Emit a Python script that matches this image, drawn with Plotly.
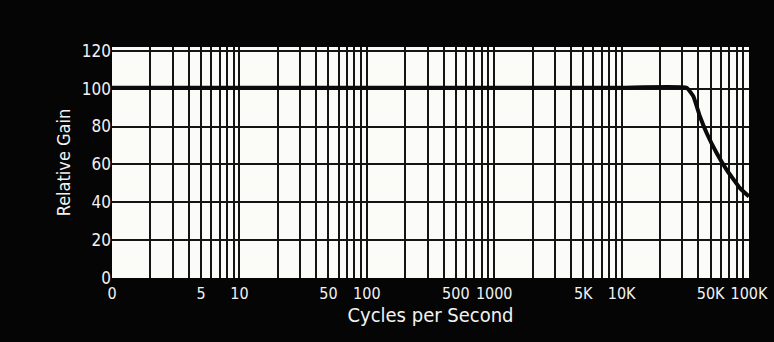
import plotly.graph_objects as go

# Data
freq_hz = [1, 10, 100, 1000, 10000, 32400, 36600, 41200, 46500, 55700, 66800, 84900, 100000]
relative_gain = [100.5, 100.5, 100.5, 100.5, 100.5, 100.5, 95.9, 85.3, 76.6, 66.0, 57.1, 47.5, 43.0]

tick_vals = [1, 5, 10, 50, 100, 500, 1000, 5000, 10000, 50000, 100000]
tick_text = ["0", "5", "10", "50", "100", "500", "1000", "5K", "10K", "50K", "100K"]
y_ticks = [0, 20, 40, 60, 80, 100, 120]

FONT = "DejaVu Sans Condensed, Liberation Sans Narrow, DejaVu Sans, sans-serif"

fig = go.Figure()
fig.add_trace(go.Scatter(
    x=freq_hz, y=relative_gain, mode="lines",
    line=dict(color="#0a0a0a", width=4, shape="spline", smoothing=0.3),
    showlegend=False, hoverinfo="skip",
))

fig.update_layout(
    width=774, height=342,
    paper_bgcolor="#050505", plot_bgcolor="#fbfbf8",
    margin=dict(l=112, r=25, t=47, b=64, autoexpand=False),
    font=dict(family=FONT, color="#f2f2f2", size=16),
    xaxis=dict(
        type="log", range=[0, 5], automargin=False,
        tickvals=tick_vals, ticktext=tick_text,
        showgrid=True, gridcolor="#141414", gridwidth=1.8,
        minor=dict(dtick="D1", showgrid=True, gridcolor="#141414", gridwidth=1.6, ticks=""),
        zeroline=False, showline=False, ticks="",
        ticklabelstandoff=4,
        tickfont=dict(family=FONT, size=16, color="#f2f2f2"),
        title=dict(text="Cycles per Second", standoff=0,
                   font=dict(family=FONT, size=20, color="#f2f2f2")),
    ),
    yaxis=dict(
        range=[0, 122], tickvals=y_ticks, automargin=False,
        showgrid=True, gridcolor="#141414", gridwidth=2,
        zeroline=False, showline=False, ticks="",
        tickfont=dict(family=FONT, size=17, color="#f2f2f2"),
        title=dict(text="Relative Gain", standoff=6,
                   font=dict(family=FONT, size=18, color="#f2f2f2")),
    ),
)

fig.write_html(
    "out.html",
    config={"displayModeBar": False},
    post_script="document.body.style.margin='0';document.body.style.background='#050505';",
)
